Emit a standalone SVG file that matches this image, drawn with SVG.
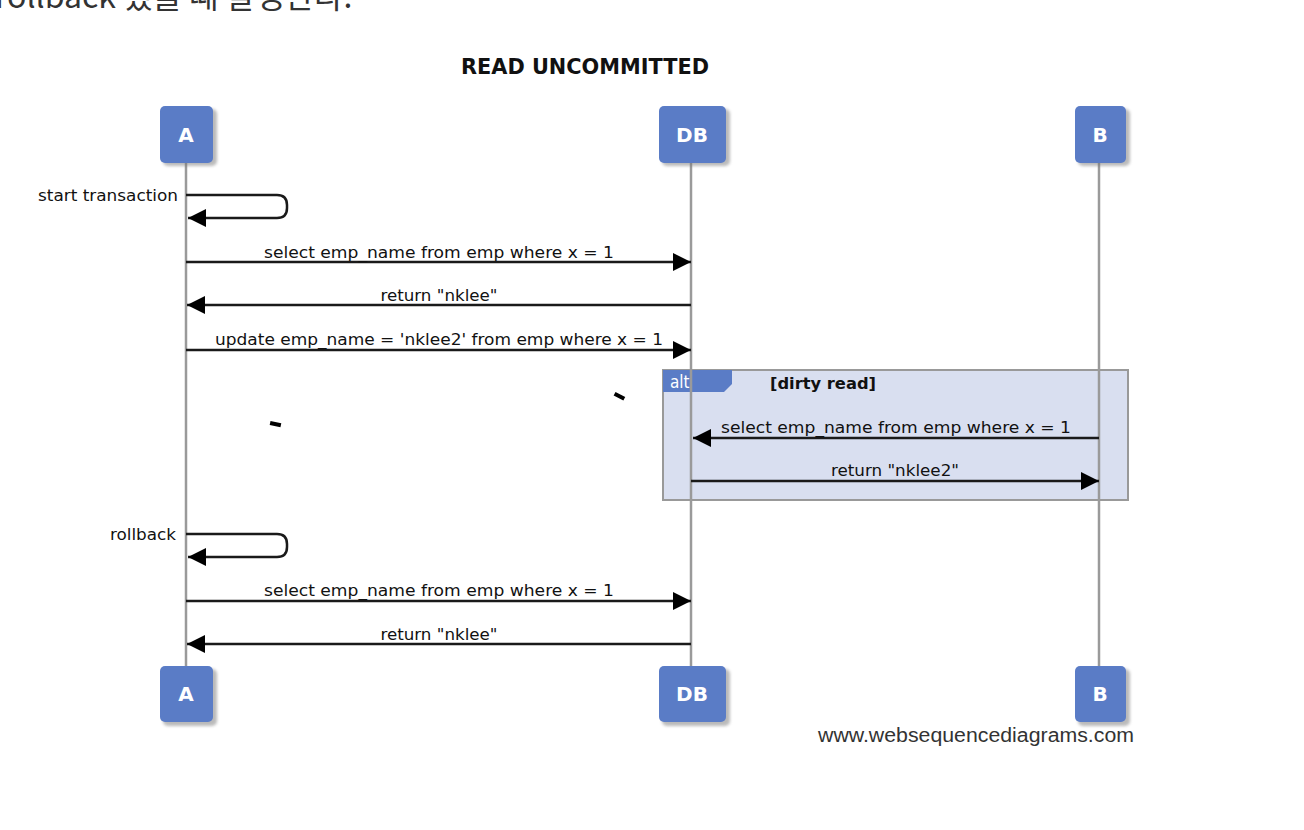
<svg xmlns="http://www.w3.org/2000/svg" width="1304" height="830" viewBox="0 0 1304 830">
<style>
.lbl{font-family:"DejaVu Sans Condensed","DejaVu Sans",sans-serif;font-size:16.5px;fill:#111;}
.msg{stroke:#1a1a1a;stroke-width:2.5;fill:none;}
.life{stroke:#9a9a9a;stroke-width:2.5;}
.box{fill:#5a7cc6;}
.shadow{fill:#777;opacity:0.5;}
.pt{font-family:"DejaVu Sans",sans-serif;font-size:20px;fill:#fff;text-anchor:middle;font-weight:bold;}
</style>
<defs>
<marker id="ah" markerUnits="userSpaceOnUse" markerWidth="20" markerHeight="18" refX="18" refY="9" orient="auto">
<path d="M0,0 L18,9 L0,18 z" fill="#000"/>
</marker>
<filter id="blur" x="-20%" y="-20%" width="140%" height="140%"><feGaussianBlur stdDeviation="1.5"/></filter>
</defs>
<rect width="1304" height="830" fill="#fff"/>
<text x="-5" y="8" font-family="'Noto Sans CJK KR','Noto Sans',sans-serif" font-size="32" fill="#333">rollback 했을 때 발생한다.</text>
<text x="585" y="74" text-anchor="middle" font-family="'DejaVu Sans Condensed','DejaVu Sans',sans-serif" font-weight="bold" font-size="21" fill="#111" textLength="248" lengthAdjust="spacingAndGlyphs">READ UNCOMMITTED</text>

<g id="alt">
<rect x="663" y="370" width="465" height="130" fill="#d9dff0" stroke="#999" stroke-width="2"/>
<polygon points="663,370 732,370 732,384 724,392 663,392" fill="#5a7cc6"/>
<text x="670" y="388" font-family="'DejaVu Sans Condensed','DejaVu Sans',sans-serif" font-size="17" fill="#fff">alt</text>
<text x="770" y="389" font-family="'DejaVu Sans Condensed','DejaVu Sans',sans-serif" font-weight="bold" font-size="16.5" fill="#111" textLength="106" lengthAdjust="spacingAndGlyphs">[dirty read]</text>
</g>

<g id="lifelines">
<line class="life" x1="186" y1="160" x2="186" y2="670"/>
<line class="life" x1="691" y1="160" x2="691" y2="670"/>
<line class="life" x1="1099" y1="160" x2="1099" y2="670"/>
</g>

<g id="A-top"><rect class="shadow" x="163" y="109" width="54" height="57" rx="5" filter="url(#blur)"/><rect class="box" x="160" y="106" width="53" height="57" rx="5"/><text class="pt" x="186" y="142">A</text></g>
<g id="DB-top"><rect class="shadow" x="662" y="109" width="68" height="57" rx="5" filter="url(#blur)"/><rect class="box" x="659" y="106" width="67" height="57" rx="5"/><text class="pt" x="692" y="142">DB</text></g>
<g id="B-top"><rect class="shadow" x="1078" y="109" width="52" height="57" rx="5" filter="url(#blur)"/><rect class="box" x="1075" y="106" width="51" height="57" rx="5"/><text class="pt" x="1100" y="142">B</text></g>
<g id="A-bottom"><rect class="shadow" x="163" y="669" width="54" height="57" rx="5" filter="url(#blur)"/><rect class="box" x="160" y="666" width="53" height="56" rx="5"/><text class="pt" x="186" y="701">A</text></g>
<g id="DB-bottom"><rect class="shadow" x="662" y="669" width="68" height="57" rx="5" filter="url(#blur)"/><rect class="box" x="659" y="666" width="67" height="56" rx="5"/><text class="pt" x="692" y="701">DB</text></g>
<g id="B-bottom"><rect class="shadow" x="1078" y="669" width="52" height="57" rx="5" filter="url(#blur)"/><rect class="box" x="1075" y="666" width="51" height="56" rx="5"/><text class="pt" x="1100" y="701">B</text></g>

<g id="connectors">
<path class="msg" d="M186,195 H277 Q287,195 287,205 V208 Q287,218 277,218 H188" marker-end="url(#ah)"/>
<line class="msg" x1="186" y1="262" x2="691" y2="262" marker-end="url(#ah)"/>
<line class="msg" x1="691" y1="305" x2="187" y2="305" marker-end="url(#ah)"/>
<line class="msg" x1="186" y1="350" x2="691" y2="350" marker-end="url(#ah)"/>
<line class="msg" x1="1099" y1="438" x2="693" y2="438" marker-end="url(#ah)"/>
<line class="msg" x1="691" y1="481" x2="1099" y2="481" marker-end="url(#ah)"/>
<path class="msg" d="M186,534 H277 Q287,534 287,544 V547 Q287,557 277,557 H188" marker-end="url(#ah)"/>
<line class="msg" x1="186" y1="601" x2="691" y2="601" marker-end="url(#ah)"/>
<line class="msg" x1="691" y1="644" x2="187" y2="644" marker-end="url(#ah)"/>
</g>

<g id="labels">
<text class="lbl" x="178" y="201" text-anchor="end" textLength="140" lengthAdjust="spacingAndGlyphs">start transaction</text>
<text class="lbl" x="439" y="258" text-anchor="middle" textLength="350" lengthAdjust="spacingAndGlyphs">select emp_name from emp where x = 1</text>
<text class="lbl" x="439" y="301" text-anchor="middle" textLength="117" lengthAdjust="spacingAndGlyphs">return "nklee"</text>
<text class="lbl" x="439" y="345" text-anchor="middle" textLength="448" lengthAdjust="spacingAndGlyphs">update emp_name = 'nklee2' from emp where x = 1</text>
<text class="lbl" x="896" y="433" text-anchor="middle" textLength="350" lengthAdjust="spacingAndGlyphs">select emp_name from emp where x = 1</text>
<text class="lbl" x="895" y="476" text-anchor="middle" textLength="128" lengthAdjust="spacingAndGlyphs">return "nklee2"</text>
<text class="lbl" x="176" y="540" text-anchor="end" textLength="66" lengthAdjust="spacingAndGlyphs">rollback</text>
<text class="lbl" x="439" y="596" text-anchor="middle" textLength="350" lengthAdjust="spacingAndGlyphs">select emp_name from emp where x = 1</text>
<text class="lbl" x="439" y="640" text-anchor="middle" textLength="117" lengthAdjust="spacingAndGlyphs">return "nklee"</text>
</g>

<g id="marks">
<rect x="270" y="422" width="11" height="4" fill="#000" transform="rotate(12 275 424)"/>
<rect x="614" y="394" width="11" height="4" fill="#000" transform="rotate(28 619 396)"/>
</g>

<text x="1134" y="742" text-anchor="end" font-family="'Liberation Sans',Arial,sans-serif" font-size="20" fill="#333" textLength="316" lengthAdjust="spacingAndGlyphs">www.websequencediagrams.com</text>
</svg>
